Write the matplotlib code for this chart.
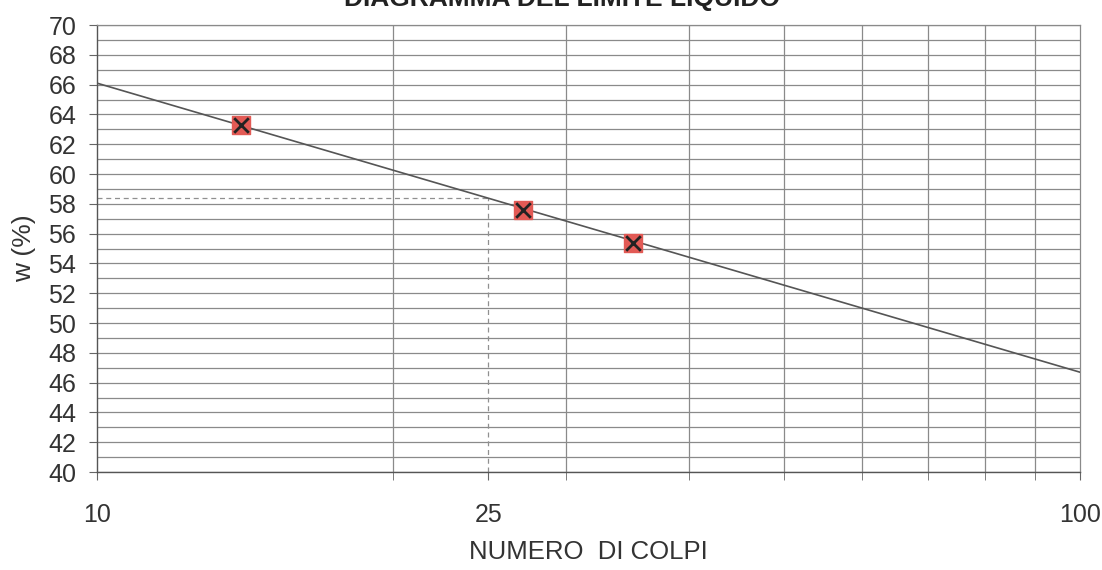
import matplotlib.pyplot as plt
from matplotlib.ticker import FixedLocator, NullFormatter

plt.rcParams['font.family'] = ['Liberation Sans', 'DejaVu Sans']

# dati della prova (colpi, umidità %)
colpi = [14, 27.1, 35.1]
umidita = [63.3, 57.6, 55.4]

# retta interpolante
retta_colpi = [10, 100]
retta_w = [66.1, 46.7]

# limite liquido a 25 colpi
colpi_ll = 25
w_ll = 58.4

y_ticks = list(range(40, 71, 2))
y_grid = list(range(40, 71, 1))
x_labels = [10, 25, 100]
x_grid = [20, 30, 40, 50, 60, 70, 80, 90]

fig = plt.figure(figsize=(11.02, 5.70), dpi=100)
ax = fig.add_axes([0.088, 0.1719, 0.892, 0.7842])

ax.set_xscale('log')
ax.set_xlim(10, 100)
ax.set_ylim(40, 70)

# griglia
for y in y_grid:
    ax.axhline(y, color='#8a8a8a', lw=0.9, zorder=1)
for x in x_grid:
    ax.axvline(x, color='#8a8a8a', lw=0.9, zorder=1)

# linee tratteggiate del limite liquido
ax.plot([colpi_ll, colpi_ll], [40, w_ll], color='#909090', lw=0.9, ls=(0, (4, 3)), zorder=2)
ax.plot([10, colpi_ll], [w_ll, w_ll], color='#909090', lw=0.9, ls=(0, (4, 3)), zorder=2)

# retta e punti
ax.plot(retta_colpi, retta_w, color='#555555', lw=1.2, zorder=3)
ax.scatter(colpi, umidita, marker='s', s=150, color='#e25a55', zorder=4)
ax.scatter(colpi, umidita, marker='x', s=110, color='#222222', linewidths=2.0, zorder=5)

ax.yaxis.set_major_locator(FixedLocator(y_ticks))
ax.set_yticklabels([str(v) for v in y_ticks])
ax.xaxis.set_major_locator(FixedLocator(x_labels))
ax.set_xticklabels([str(v) for v in x_labels])
ax.xaxis.set_minor_locator(FixedLocator(x_grid))
ax.xaxis.set_minor_formatter(NullFormatter())
ax.yaxis.set_minor_locator(FixedLocator([]))

ax.tick_params(axis='y', labelsize=18, length=6, color='#666666', pad=9, labelcolor='#333333')
ax.tick_params(axis='x', which='both', length=6, color='#666666')
ax.tick_params(axis='x', which='major', labelsize=18, pad=16, labelcolor='#333333')

for side in ['left', 'bottom']:
    ax.spines[side].set_color('#555555')
    ax.spines[side].set_linewidth(1.0)
for side in ['top', 'right']:
    ax.spines[side].set_color('#8a8a8a')
    ax.spines[side].set_linewidth(0.9)

ax.set_xlabel('NUMERO  DI COLPI', fontsize=18.5, color='#333333', labelpad=10)
ax.set_ylabel('w (%)', fontsize=19, color='#333333', labelpad=9)

# titolo, tagliato in alto come nell'originale
fig.text(0.510, 0.9895, 'DIAGRAMMA DEL LIMITE LIQUIDO', fontsize=19, fontweight='bold',
         ha='center', va='baseline', color='#222222')

fig.savefig('out.png', dpi=100)
